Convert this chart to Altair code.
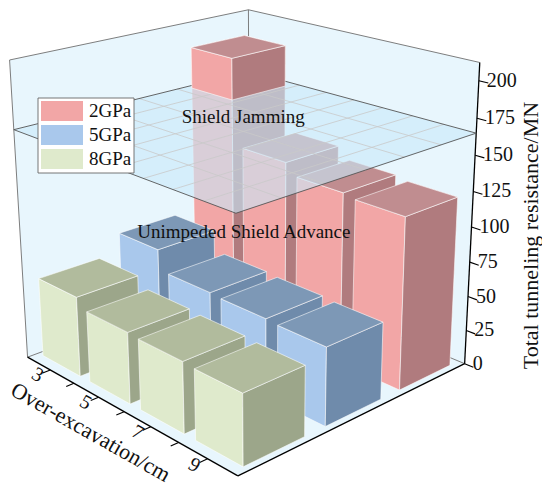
import math
import altair as alt
import pandas as pd

# ---------------- data ----------------
over_excavation = [3, 5, 7, 9]
minor_ticks = [4, 6, 8]
series_names = ["2GPa", "5GPa", "8GPa"]
resist_2gpa = [195, 132, 124, 122]
resist_5gpa = [72, 57, 56, 55]
resist_8gpa = [58, 51, 50, 49]
z_ticks = [0, 25, 50, 75, 100, 125, 150, 175, 200]
jam_level = 165
z_top = 212
x_label = "Over-excavation/cm"
z_label = "Total tunneling resistance/MN"
zone_labels = ["Shield Jamming", "Unimpeded Shield Advance"]

FONT = "Liberation Serif"
front_col = {"2GPa": "#f2a6a6", "5GPa": "#a9c8ec", "8GPa": "#dfeacc"}
side_col = {"2GPa": "#b07b7e", "5GPa": "#6f8bab", "8GPa": "#9ca68a"}
top_col = {"2GPa": "#c08d90", "5GPa": "#7d98b6", "8GPa": "#b1bb9d"}

# ---------------- camera: 3x4 perspective matrix (box coords x,y in [0,1], z/200) ----------------
P = [0.78526, 0.79453, 0.00206, -0.89982,
     0.33841, -0.31872, -1.07129, 0.42866,
     -0.15124, 0.13731, -0.06597, 1.0]


def pj(X, Y, Z):
    Zn = Z / 200
    d = P[8] * X + P[9] * Y + P[10] * Zn + P[11]
    return (275 + 275 * (P[0] * X + P[1] * Y + P[2] * Zn + P[3]) / d,
            250 + 250 * (P[4] * X + P[5] * Y + P[6] * Zn + P[7]) / d)


def proj(xf, yf, zf):
    a = [f"{c:.6f}" for c in P]
    den = f"({a[8]}*datum.{xf}+{a[9]}*datum.{yf}+{a[10]}*datum.{zf}/200+{a[11]})"
    u = f"275+275*({a[0]}*datum.{xf}+{a[1]}*datum.{yf}+{a[2]}*datum.{zf}/200+{a[3]})/{den}"
    v = f"250+250*({a[4]}*datum.{xf}+{a[5]}*datum.{yf}+{a[6]}*datum.{zf}/200+{a[7]})/{den}"
    return u, v


def xpos(o):
    return (o - 2) / 8.0


def ypos(si):
    return (2 - si + 0.5) / 3.0


HX, HY = 0.10, 0.123

XS = alt.Scale(domain=[8, 542], nice=False, zero=False)
YS = alt.Scale(domain=[8, 487], nice=False, zero=False, reverse=True)
U, V = proj("X", "Y", "Z")
U1, V1 = proj("X1", "Y1", "Z1")
U2, V2 = proj("X2", "Y2", "Z2")


def enc_xy(u="u", v="v"):
    return dict(x=alt.X(f"{u}:Q", scale=XS, axis=None), y=alt.Y(f"{v}:Q", scale=YS, axis=None))


def poly_layer(rows, fill_opacity=1.0, stroke="#ffffff", sw=0.7, sop=0.8):
    df = pd.DataFrame(rows)
    return alt.Chart(df).transform_calculate(u=U, v=V).mark_line(
        stroke=stroke, strokeWidth=sw, strokeOpacity=sop, fillOpacity=fill_opacity, strokeJoin="round"
    ).encode(**enc_xy(), fill=alt.Fill("fill:N", scale=None), detail="pid:N", order="k:Q")


def seg_layer(rows):
    df = pd.DataFrame(rows)
    return alt.Chart(df).transform_calculate(u1=U1, v1=V1, u2=U2, v2=V2).mark_rule(strokeCap="butt").encode(
        x=alt.X("u1:Q", scale=XS, axis=None), y=alt.Y("v1:Q", scale=YS, axis=None),
        x2="u2:Q", y2="v2:Q",
        stroke=alt.Stroke("col:N", scale=None), strokeWidth=alt.StrokeWidth("w:Q", scale=None))


def text_layer(rows, **mk):
    df = pd.DataFrame(rows)
    return alt.Chart(df).transform_calculate(u=U, v=V).transform_calculate(
        uu="datum.u + datum.du", vv="datum.v + datum.dv").mark_text(font=FONT, color="#111111", **mk).encode(
        **enc_xy("uu", "vv"), text="text:N")


def quad(pid, pts, fill):
    rows = []
    for k, (X, Y, Z) in enumerate(pts + [pts[0]]):
        rows.append(dict(pid=pid, k=k, X=X, Y=Y, Z=Z, fill=fill))
    return rows


def bar_faces(pid, xc, yc, zl, zh, s):
    x0, x1, y0, y1 = xc - HX, xc + HX, yc - HY, yc + HY
    r = []
    r += quad(pid + "f", [(x0, y0, zl), (x1, y0, zl), (x1, y0, zh), (x0, y0, zh)], front_col[s])
    r += quad(pid + "s", [(x1, y0, zl), (x1, y1, zl), (x1, y1, zh), (x1, y0, zh)], side_col[s])
    r += quad(pid + "t", [(x0, y0, zh), (x1, y0, zh), (x1, y1, zh), (x0, y1, zh)], top_col[s])
    return r


layers = []

# walls and floor
wall = "#e8f6fd"
box_rows = []
box_rows += quad("wl", [(0, 0, 0), (0, 1, 0), (0, 1, z_top), (0, 0, z_top)], wall)
box_rows += quad("wr", [(0, 1, 0), (1, 1, 0), (1, 1, z_top), (0, 1, z_top)], wall)
box_rows += quad("fl", [(0, 0, 0), (1, 0, 0), (1, 1, 0), (0, 1, 0)], wall)
layers.append(poly_layer(box_rows, stroke="#777777", sw=0.0, sop=0))

segs = []


def seg(a, b, col, w):
    segs.append(dict(X1=a[0], Y1=a[1], Z1=a[2], X2=b[0], Y2=b[1], Z2=b[2], col=col, w=w))


g = "#6f6f6f"
seg((0, 0, z_top), (0, 1, z_top), g, 0.9)
seg((0, 1, z_top), (1, 1, z_top), g, 0.9)
seg((0, 0, 0), (0, 0, z_top), g, 0.9)
seg((0, 1, 0), (0, 1, z_top), g, 0.9)
seg((0, 0, 0), (0, 1, 0), g, 0.9)
seg((0, 1, 0), (1, 1, 0), g, 0.9)
seg((0, 0, 0), (1, 0, 0), "#000000", 1.3)
seg((1, 0, 0), (1, 1, 0), "#000000", 1.3)
seg((1, 1, 0), (1, 1, z_top), "#000000", 1.3)
for z in z_ticks:
    seg((1, 1, z), (1.035, 1, z), "#000000", 1.1)
for o in over_excavation + minor_ticks:
    seg((xpos(o), 0, 0), (xpos(o), -0.03, 0), "#000000", 1.1)
layers.append(seg_layer(segs))

# bars, painter order (far to near)
values = {"2GPa": resist_2gpa, "5GPa": resist_5gpa, "8GPa": resist_8gpa}
bars = []
for si, s in enumerate(series_names):
    for i, o in enumerate(over_excavation):
        bars.append((xpos(o) - ypos(si), s, o, xpos(o), ypos(si), values[s][i]))
bars.sort()
for _, s, o, xc, yc, h in bars:
    layers.append(poly_layer(bar_faces(f"{s}{o}", xc, yc, 0, h, s)))

# jamming plane
plane = quad("pl", [(0, 0, jam_level), (1, 0, jam_level), (1, 1, jam_level), (0, 1, jam_level)], "#c8e9fa")
layers.append(poly_layer(plane, fill_opacity=0.6, sw=0, sop=0))
gsegs = []
for o in over_excavation + minor_ticks:
    gsegs.append(dict(X1=xpos(o), Y1=0, Z1=jam_level, X2=xpos(o), Y2=1, Z2=jam_level, col="#c9c9c9", w=0.8))
for yy in [1 / 6, 2 / 6, 3 / 6, 4 / 6, 5 / 6]:
    gsegs.append(dict(X1=0, Y1=yy, Z1=jam_level, X2=1, Y2=yy, Z2=jam_level, col="#c9c9c9", w=0.8))
for a, b in [((0, 0), (1, 0)), ((1, 0), (1, 1)), ((1, 1), (0, 1)), ((0, 1), (0, 0))]:
    gsegs.append(dict(X1=a[0], Y1=a[1], Z1=jam_level, X2=b[0], Y2=b[1], Z2=jam_level, col="#555555", w=0.9))
layers.append(seg_layer(gsegs))

# parts of bars above the plane
for _, s, o, xc, yc, h in bars:
    if h > jam_level:
        layers.append(poly_layer(bar_faces(f"{s}{o}u", xc, yc, jam_level, h, s)))

# texts
ang = math.degrees(math.atan2(pj(1, 0, 0)[1] - pj(0, 0, 0)[1], pj(1, 0, 0)[0] - pj(0, 0, 0)[0]))
layers.append(text_layer([dict(X=1, Y=1, Z=z, text=str(z), du=8, dv=0) for z in z_ticks],
                         fontSize=20, align="left", baseline="middle"))
layers.append(text_layer([dict(X=1, Y=1, Z=94, text=z_label, du=60, dv=0)],
                         fontSize=22, align="center", baseline="middle", angle=270))
layers.append(text_layer([dict(X=xpos(o), Y=-0.05, Z=0, text=str(o), du=0, dv=0) for o in over_excavation],
                         fontSize=20, align="center", baseline="middle", angle=round(ang, 1)))
layers.append(text_layer([dict(X=0.53, Y=-0.15, Z=0, text=x_label, du=0, dv=0)],
                         fontSize=22, align="center", baseline="middle", angle=round(ang, 1)))
layers.append(text_layer([dict(X=0.5, Y=0.5, Z=175, text=zone_labels[0], du=0, dv=0),
                          dict(X=0.5, Y=0.5, Z=95, text=zone_labels[1], du=0, dv=0)],
                         fontSize=19, align="center", baseline="middle"))

# legend
leg_box = pd.DataFrame([dict(x1=38, x2=134, y1=98, y2=173)])
layers.append(alt.Chart(leg_box).mark_rect(fill="white", stroke="#666666", strokeWidth=0.9).encode(
    x=alt.X("x1:Q", scale=XS, axis=None), x2="x2:Q", y=alt.Y("y1:Q", scale=YS, axis=None), y2="y2:Q"))
leg = pd.DataFrame([dict(name=s, x1=41, x2=83, y1=101 + 24 * k, y2=121 + 24 * k, tx=89, ty=111 + 24 * k,
                         fill=front_col[s]) for k, s in enumerate(series_names)])
layers.append(alt.Chart(leg).mark_rect().encode(
    x=alt.X("x1:Q", scale=XS, axis=None), x2="x2:Q", y=alt.Y("y1:Q", scale=YS, axis=None), y2="y2:Q",
    fill=alt.Fill("fill:N", scale=None)))
layers.append(alt.Chart(leg).mark_text(font=FONT, fontSize=19, align="left", baseline="middle", color="#111").encode(
    x=alt.X("tx:Q", scale=XS, axis=None), y=alt.Y("ty:Q", scale=YS, axis=None), text="name:N"))

chart = alt.layer(*layers).properties(
    width=534, height=479, autosize=alt.AutoSizeParams(type="none"), padding=0
).configure_view(strokeWidth=0)

chart.save("out.html", embed_options={"renderer": "svg", "actions": False})
